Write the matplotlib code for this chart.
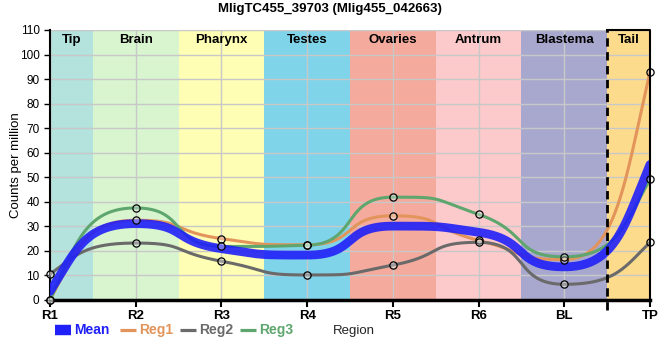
import numpy as np
import matplotlib
matplotlib.use("Agg")
import matplotlib.pyplot as plt
from matplotlib.lines import Line2D

plt.rcParams["font.family"] = ["Liberation Sans", "DejaVu Sans"]

# ---- data ----
regions = ["R1", "R2", "R3", "R4", "R5", "R6", "BL", "TP"]
reg1 = [0.0, 32.5, 25.0, 22.5, 34.3, 24.3, 16.5, 93.0]
reg2 = [10.5, 23.2, 15.8, 10.2, 14.2, 23.5, 6.4, 23.5]
reg3 = [0.0, 37.5, 21.8, 22.3, 41.9, 34.9, 17.6, 49.2]
mean = [3.5, 31.1, 20.9, 18.3, 30.1, 27.6, 13.5, 55.2]

bands = ["Tip", "Brain", "Pharynx", "Testes", "Ovaries", "Antrum", "Blastema", "Tail"]
band_edges = [0, 0.5, 1.5, 2.5, 3.5, 4.5, 5.5, 6.5, 7]
band_colors = ["#b4e2dd", "#d8f5cf", "#fefeb4", "#7fd4ea", "#f4aa9c",
               "#fdcacb", "#a8a8cf", "#fddb8d"]

C_MEAN, C1, C2, C3 = "#2020f8", "#e3945a", "#6a6a6a", "#5ea66e"


def smooth(xs, ys, a=0.6, ae=0.3, n=120):
    """Bezier spline with long handles (flat, plateau-like joins)."""
    xs = np.asarray(xs, float); ys = np.asarray(ys, float)
    h = np.diff(xs); s = np.diff(ys) / h
    m = np.zeros_like(ys)
    for i in range(1, len(ys) - 1):
        p = (s[i - 1] * h[i] + s[i] * h[i - 1]) / (h[i - 1] + h[i])
        m[i] = (np.sign(s[i - 1]) + np.sign(s[i])) * min(abs(s[i - 1]), abs(s[i]), 0.5 * abs(p))
    m[0] = 2.0 * s[0]
    m[-1] = 2.0 * s[-1]
    X, Y = [], []
    t = np.linspace(0, 1, n)[:, None]
    last = len(ys) - 1
    for i in range(len(h)):
        y0, y1 = ys[i], ys[i + 1]
        lo, hi = min(y0, y1), max(y0, y1)
        la = ae if i == 0 else a
        lb = ae if i + 1 == last else a
        p1y = y0 + la * h[i] * m[i]
        if not lo <= p1y <= hi and m[i] != 0:
            la = ((hi if p1y > hi else lo) - y0) / (h[i] * m[i])
            p1y = y0 + la * h[i] * m[i]
        p2y = y1 - lb * h[i] * m[i + 1]
        if not lo <= p2y <= hi and m[i + 1] != 0:
            lb = (y1 - (hi if p2y > hi else lo)) / (h[i] * m[i + 1])
            p2y = y1 - lb * h[i] * m[i + 1]
        P = np.array([[xs[i], y0], [xs[i] + la * h[i], p1y],
                      [xs[i + 1] - lb * h[i], p2y], [xs[i + 1], y1]])
        B = ((1 - t) ** 3 * P[0] + 3 * (1 - t) ** 2 * t * P[1]
             + 3 * (1 - t) * t ** 2 * P[2] + t ** 3 * P[3])
        X.append(B[:, 0]); Y.append(B[:, 1])
    return np.concatenate(X), np.concatenate(Y)


fig = plt.figure(figsize=(6.6, 3.6), dpi=100)
ax = fig.add_axes([50 / 660, 60 / 360, 600 / 660, 270 / 360])
x = np.arange(len(regions))

for i, (lab, col) in enumerate(zip(bands, band_colors)):
    ax.axvspan(band_edges[i], band_edges[i + 1], color=col, lw=0, zorder=0)
    ax.text((band_edges[i] + band_edges[i + 1]) / 2, 106, lab, ha="center",
            va="center", fontsize=9.5, fontweight="bold", zorder=5)

ax.set_xlim(0, 7)
ax.set_ylim(0, 110)
ax.set_yticks(range(0, 111, 10))
ax.set_xticks(x)
ax.set_xticklabels(regions, fontweight="bold", fontsize=9.5)
ax.tick_params(axis="y", labelsize=8.5, length=4, width=1)
ax.tick_params(axis="x", length=5, width=1.5, pad=2)
ax.grid(True, color="#c8c8c8", lw=1, zorder=1)
ax.set_axisbelow(True)
for sp in ("top", "right"):
    ax.spines[sp].set_visible(False)
ax.spines["left"].set_linewidth(1.5)
ax.spines["bottom"].set_linewidth(2.5)

for ys, col in ((reg1, C1), (reg2, C2), (reg3, C3)):
    sx, sy = smooth(x, ys)
    ax.plot(sx, sy, color=col, lw=2.2, zorder=3, solid_capstyle="round")
sx, sy = smooth(x, mean)
ax.plot(sx, sy, color=C_MEAN, lw=6.3, alpha=0.9, zorder=4, solid_capstyle="round")
for ys in (reg1, reg2, reg3):
    ax.plot(x, ys, "o", ms=5.2, mfc="#ffffff55", mec="black", mew=0.9, zorder=6,
            clip_on=False)

# tail box: dashed left edge, solid top and right
ax.plot([6.5, 6.5], [-4, 110], ls=(0, (3, 2)), color="black", lw=2, zorder=6,
        clip_on=False)
ax.plot([6.5, 7, 7], [110, 110, 0], color="black", lw=1.5, zorder=6, clip_on=False)

ax.set_ylabel("Counts per million", fontsize=9.5)
ax.yaxis.set_label_coords(-28 / 600, 0.5)
fig.text(0.5, 0.975, "MligTC455_39703 (Mlig455_042663)", ha="center", va="center",
         fontsize=9.5, fontweight="bold")

# legend along the bottom
ly = 30 / 360
items = [("Mean", C_MEAN, 7.5, 55, 74), ("Reg1", C1, 2.3, 120, 139),
         ("Reg2", C2, 2.3, 180, 199), ("Reg3", C3, 2.3, 240, 259)]
for lab, col, lw, x0, tx in items:
    fig.add_artist(Line2D([x0 / 660, (x0 + 16) / 660], [ly, ly], color=col, lw=lw,
                          solid_capstyle="butt"))
    fig.text(tx / 660, ly, lab, color=col, fontsize=10, fontweight="bold", va="center")
fig.text(333 / 660, ly - 0.003, "Region", fontsize=9.5, va="center", color="#222222")

fig.savefig("out.png", dpi=100)
